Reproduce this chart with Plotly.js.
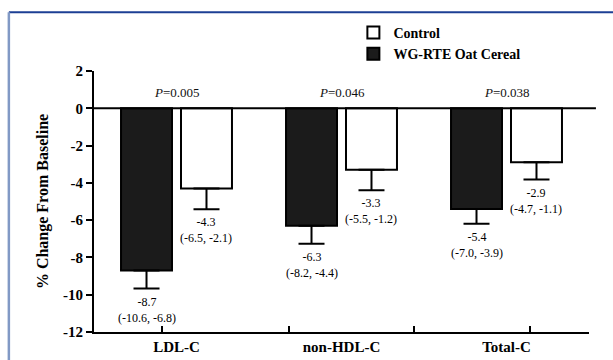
<!DOCTYPE html>
<html><head><meta charset="utf-8">
<script src="https://cdn.plot.ly/plotly-3.0.1.min.js"></script>
<style>html,body{margin:0;padding:0;background:#fff}</style>
</head><body>
<div id="chart" style="width:613px;height:360px"></div>
<script>
const categories = ["LDL-C", "non-HDL-C", "Total-C"];
const oatValues = [-8.7, -6.3, -5.4];
const oatErr = [0.97, 0.97, 0.79];
const oatCI = ["(-10.6, -6.8)", "(-8.2, -4.4)", "(-7.0, -3.9)"];
const controlValues = [-4.3, -3.3, -2.9];
const controlErr = [1.12, 1.10, 0.92];
const controlCI = ["(-6.5, -2.1)", "(-5.5, -1.2)", "(-4.7, -1.1)"];
const pValues = ["0.005", "0.046", "0.038"];
const yTickVals = [2, 0, -2, -4, -6, -8, -10, -12];
const yTickText = ["2", "0", "-2", "-4", "-6", "-8", "-10", "-12"];
const xTickMarks = [-0.09, 0.68, 1.44, 2.14];

const serif = "Liberation Serif";
const offs = 0.18;
const b = s => "<b>" + s + "</b>";

const traces = [
  {type: "bar", name: b("WG-RTE Oat Cereal"), x: categories, y: oatValues,
   marker: {color: "#1b1b1b", line: {color: "#000", width: 2}},
   error_y: {type: "data", symmetric: false, array: oatValues.map(() => 0), arrayminus: oatErr,
             color: "#000", thickness: 2, width: 13}},
  {type: "bar", name: b("Control"), x: categories, y: controlValues,
   marker: {color: "#ffffff", line: {color: "#000", width: 2}},
   error_y: {type: "data", symmetric: false, array: controlValues.map(() => 0), arrayminus: controlErr,
             color: "#000", thickness: 2, width: 13}}
];

const annFont = {family: serif, size: 12, color: "#000"};
const annotations = [];
categories.forEach((c, i) => {
  [[oatValues, oatErr, oatCI, -offs], [controlValues, controlErr, controlCI, offs]].forEach(([v, e, ci, o]) => {
    annotations.push({x: i + o, y: v[i] - e[i], xref: "x", yref: "y",
      text: v[i].toFixed(1) + "<br>" + ci[i],
      showarrow: false, yanchor: "top", yshift: -4, font: annFont});
  });
  annotations.push({x: i, y: 0, xref: "x", yref: "y", text: "<i>P</i>=" + pValues[i],
    showarrow: false, yanchor: "middle", yshift: 16, font: {family: serif, size: 13, color: "#111"}});
});

const layout = {
  width: 613, height: 360,
  margin: {l: 93.5, r: 24, t: 71, b: 28.3, pad: 0},
  paper_bgcolor: "#fff", plot_bgcolor: "#fff",
  barmode: "group", bargap: 0.273, bargroupgap: 0.15,
  showlegend: true,
  legend: {x: 0.524, y: 1.207, xanchor: "left", yanchor: "top", traceorder: "reversed",
           font: {family: serif, size: 14, color: "#000"},
           bgcolor: "rgba(0,0,0,0)", borderwidth: 0, tracegroupgap: 0, itemwidth: 30},
  xaxis: {type: "category", range: [-0.5, 2.5], showline: true, linecolor: "#000", linewidth: 2,
          ticks: "", showgrid: false, zeroline: false, tickmode: "array",
          tickvals: categories, ticktext: categories.map(b),
          tickfont: {family: serif, size: 15, color: "#000"}},
  xaxis2: {overlaying: "x", anchor: "y", side: "bottom", range: [-0.5, 2.5], tickmode: "array",
           tickvals: xTickMarks, ticks: "inside", ticklen: 6, tickwidth: 2, tickcolor: "#000",
           showticklabels: false, showline: false, showgrid: false, zeroline: false},
  yaxis: {range: [-12, 2], tickmode: "array", tickvals: yTickVals, ticktext: yTickText.map(b),
          showline: true, linecolor: "#000", linewidth: 2, ticks: "outside", ticklen: 6, tickwidth: 2,
          tickcolor: "#000", showgrid: false, zeroline: false,
          tickfont: {family: serif, size: 15, color: "#000"},
          title: {text: b("% Change From Baseline"), standoff: 10,
                  font: {family: serif, size: 16, color: "#000"}}},
  shapes: [
    {type: "line", xref: "paper", yref: "y", x0: 0, x1: 1.014, y0: 0, y1: 0, line: {color: "#000", width: 2}},
    {type: "line", xref: "paper", yref: "paper", x0: -0.172, x1: 1.06, y0: 1.225, y1: 1.225, line: {color: "#1c3f94", width: 2}},
    {type: "line", xref: "paper", yref: "paper", x0: -0.172, x1: -0.172, y0: 1.225, y1: -0.12, line: {color: "#8199c5", width: 2.5}}
  ],
  annotations: annotations
};

traces.push({type: "scatter", x: [], y: [], xaxis: "x2", yaxis: "y", showlegend: false, hoverinfo: "skip"});

Plotly.newPlot("chart", traces, layout, {displayModeBar: false, staticPlot: true});
</script>
</body></html>
